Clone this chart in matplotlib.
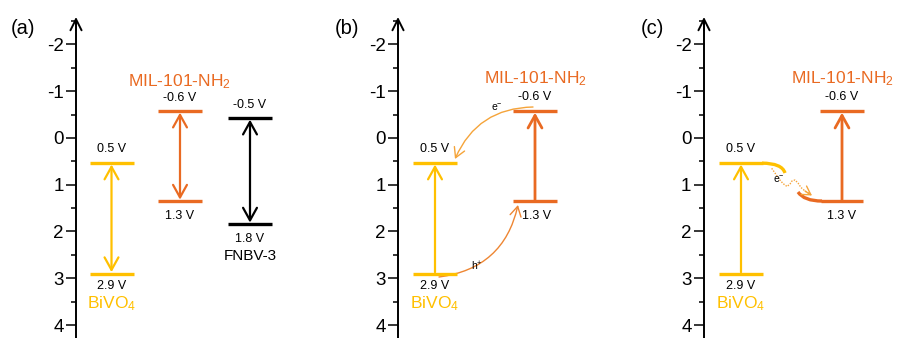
import matplotlib
matplotlib.use("Agg")
import matplotlib.pyplot as plt
from matplotlib.path import Path
from matplotlib.patches import PathPatch, FancyArrowPatch
import numpy as np

plt.rcParams['font.family'] = ['Liberation Sans', 'DejaVu Sans']
plt.rcParams['mathtext.fontset'] = 'custom'
plt.rcParams['mathtext.rm'] = 'Liberation Sans'
plt.rcParams['mathtext.it'] = 'Liberation Sans'
plt.rcParams['mathtext.default'] = 'regular'

# ---- data (potentials as drawn, V) ----
bivo4_cb, bivo4_vb = 0.54, 2.90
mil_cb, mil_vb = -0.57, 1.35
fnbv_cb, fnbv_vb = -0.42, 1.84
bivo4_labels = ["0.5 V", "2.9 V"]
mil_labels = ["-0.6 V", "1.3 V"]
fnbv_labels = ["-0.5 V", "1.8 V"]
yticks = [-2, -1, 0, 1, 2, 3, 4]
yticklabels = ["-2", "-1", "0", "1", "2", "3", "4"]
panel_tags = ["(a)", "(b)", "(c)"]

YEL = "#FFC000"
ORA = "#E96A22"
LORA = "#F5A43A"
MORA = "#EE8633"

W, H = 897, 338
fig = plt.figure(figsize=(W/100, H/100), dpi=100)

PX = 46.78
Y0 = 137.9
def e(py):
    return (py - Y0) / PX

axis_x = [76, 398, 704]
right_x = [300, 600, 897]
axes = []
for i in range(3):
    ax = fig.add_axes([axis_x[i]/W, 0, (right_x[i]-axis_x[i])/W, 1])
    ax.set_xlim(axis_x[i], right_x[i])
    ax.set_ylim(e(H), e(0))
    for s in ['top', 'right', 'bottom']:
        ax.spines[s].set_visible(False)
    ax.spines['left'].set_linewidth(1.4)
    ax.spines['left'].set_bounds(-2.5, e(H))
    ax.set_xticks([])
    ax.set_yticks(yticks)
    ax.set_yticklabels(yticklabels)
    ax.set_yticks(np.arange(-2.5, 4.5, 1.0), minor=True)
    ax.tick_params(axis='y', which='major', length=7, width=1.1, pad=2, labelsize=13.5)
    ax.tick_params(axis='y', which='minor', length=3.6, width=1.1)
    ax.patch.set_visible(False)
    ax.annotate('', xy=(axis_x[i], e(17)), xytext=(axis_x[i], -2.3),
                arrowprops=dict(arrowstyle='->,head_length=0.4,head_width=0.2',
                                lw=1.4, color='black', mutation_scale=20,
                                shrinkA=0, shrinkB=0), annotation_clip=False)
    fig.text([23, 347, 652][i]/W, 1-28/H, panel_tags[i], fontsize=14.5,
             ha='center', va='center')
    axes.append(ax)

def level(ax, xc, y, color, hw=22, lw=2.4):
    ax.plot([xc-hw, xc+hw], [y, y], color=color, lw=lw, solid_capstyle='butt')

def varrow(ax, x, y0, y1, color, style, lw=1.6):
    ax.add_patch(FancyArrowPatch((x, y0), (x, y1),
                 arrowstyle=style+',head_length=0.45,head_width=0.25',
                 mutation_scale=20, lw=lw, color=color, shrinkA=1, shrinkB=1))

def txt(ax, x, y, s, color='black', size=9):
    ax.text(x, y, s, color=color, fontsize=size, ha='center', va='center')

# ---- panel (a) ----
ax = axes[0]
xb, xm, xf = 111.5, 180, 250
level(ax, xb, bivo4_cb, YEL); level(ax, xb, bivo4_vb, YEL)
level(ax, xm, mil_cb, ORA); level(ax, xm, mil_vb, ORA)
level(ax, xf, fnbv_cb, 'black'); level(ax, xf, fnbv_vb, 'black')
varrow(ax, xb, bivo4_vb, bivo4_cb, YEL, '<->')
varrow(ax, xm, mil_vb, mil_cb, ORA, '<->')
varrow(ax, xf, fnbv_vb, fnbv_cb, 'black', '<->')
txt(ax, xb, e(148.5), bivo4_labels[0]); txt(ax, xb, e(286), bivo4_labels[1])
txt(ax, xb, e(304), 'BiVO$_4$', YEL, 12.5)
txt(ax, xm, e(97.5), mil_labels[0]); txt(ax, xm, e(216), mil_labels[1])
txt(ax, 179, e(82), 'MIL-101-NH$_2$', ORA, 12.5)
txt(ax, xf, e(105), fnbv_labels[0]); txt(ax, xf, e(238.7), fnbv_labels[1])
txt(ax, xf, e(256), 'FNBV-3', 'black', 11)

# ---- panel (b) ----
ax = axes[1]
xb, xm = 435, 535
level(ax, xb, bivo4_cb, YEL); level(ax, xb, bivo4_vb, YEL)
level(ax, xm, mil_cb, ORA); level(ax, xm, mil_vb, ORA)
varrow(ax, xb, bivo4_vb, bivo4_cb, YEL, '->')
varrow(ax, xm, mil_vb, mil_cb, ORA, '->', lw=2.0)
txt(ax, xb, e(149), bivo4_labels[0]); txt(ax, xb, e(286), bivo4_labels[1])
txt(ax, xb, e(304), 'BiVO$_4$', YEL, 12.5)
txt(ax, xm, e(97), mil_labels[0]); txt(ax, 537, e(216), mil_labels[1])
txt(ax, 535, e(79), 'MIL-101-NH$_2$', ORA, 12.5)
ax.add_patch(FancyArrowPatch((533, e(107)), (455, e(159)),
             connectionstyle='arc3,rad=0.32',
             arrowstyle='->,head_length=0.35,head_width=0.2', mutation_scale=20,
             lw=1.0, color=LORA, shrinkA=0, shrinkB=0))
ax.add_patch(FancyArrowPatch((439, e(277)), (518, e(205)),
             connectionstyle='arc3,rad=0.35',
             arrowstyle='->,head_length=0.35,head_width=0.2', mutation_scale=20,
             lw=1.0, color=MORA, shrinkA=0, shrinkB=0))
txt(ax, 497, e(107), 'e$^{-}$', 'black', 7.5)
txt(ax, 477, e(266), 'h$^{+}$', 'black', 7.5)

# ---- panel (c) ----
ax = axes[2]
xb, xm = 741, 841.5
ax.plot([719, 763], [bivo4_cb, bivo4_cb], color=YEL, lw=2.4, solid_capstyle='butt')
ax.add_patch(PathPatch(Path([(762, bivo4_cb), (782, bivo4_cb), (785, e(173))],
                            [Path.MOVETO, Path.CURVE3, Path.CURVE3]),
                       fc='none', ec=YEL, lw=2.4))
level(ax, xb, bivo4_vb, YEL)
level(ax, xm, mil_cb, ORA)
ax.plot([821, 863], [mil_vb, mil_vb], color=ORA, lw=2.4, solid_capstyle='butt')
ax.add_patch(PathPatch(Path([(798, e(192)), (804, mil_vb), (822, mil_vb)],
                            [Path.MOVETO, Path.CURVE3, Path.CURVE3]),
                       fc='none', ec=ORA, lw=2.4))
varrow(ax, xb, bivo4_vb, bivo4_cb, YEL, '->')
varrow(ax, 842, mil_vb, mil_cb, ORA, '->', lw=2.0)
wave_px = [(771.7, 168.3), (775, 173), (779, 179), (783, 183.5), (787, 186.5),
           (790, 184), (792, 181), (795, 180), (798, 183), (801, 187.5),
           (805, 191), (809, 193.5), (812, 195.5)]
wx = [p[0] for p in wave_px]
wy = [e(p[1]) for p in wave_px]
ax.plot(wx[:-1], wy[:-1], color=LORA, lw=1.0, ls=(0, (1, 1)))
ax.annotate('', xy=(wx[-1], wy[-1]), xytext=(wx[-3], wy[-3]),
            arrowprops=dict(arrowstyle='->,head_length=0.3,head_width=0.18',
                            mutation_scale=20, lw=1.0, color=LORA, shrinkA=0, shrinkB=0))
txt(ax, xb, e(149), bivo4_labels[0]); txt(ax, xb, e(286), bivo4_labels[1])
txt(ax, xb, e(304), 'BiVO$_4$', YEL, 12.5)
txt(ax, 842, e(97), mil_labels[0]); txt(ax, 842, e(216), mil_labels[1])
txt(ax, 842, e(79), 'MIL-101-NH$_2$', ORA, 12.5)
txt(ax, 779, e(179), 'e$^{-}$', 'black', 7.5)

fig.savefig("out.png", dpi=100)
